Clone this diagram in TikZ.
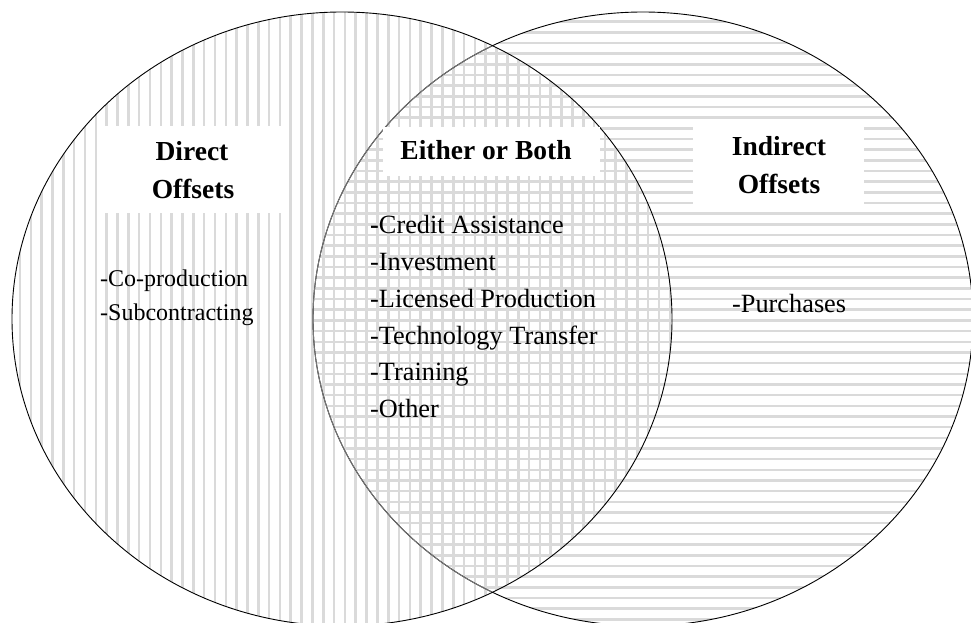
\documentclass[tikz,border=0pt]{standalone}
\usepackage{fontspec}
\setmainfont{Liberation Serif}
\definecolor{stripecol}{RGB}{218,218,218}
\definecolor{innerline}{RGB}{120,120,120}
\begin{document}
\begin{tikzpicture}[x=1pt,y=-1pt,
  stripe/.style={line width=2.6pt, draw=stripecol},
  outline/.style={line width=0.9pt, draw=black},
  whitebox/.style={fill=white, draw=none, inner sep=0pt},
  title/.style={font=\fontsize{27.5}{33}\selectfont\bfseries, inner sep=0pt, anchor=base},
  item/.style={font=\fontsize{26.3}{31}\selectfont, inner sep=0pt, anchor=base west},
  smallitem/.style={font=\fontsize{24}{29}\selectfont, inner sep=0pt, anchor=base west}]
\useasboundingbox (0,0) rectangle (971,623);
\fill[white] (0,0) rectangle (971,623);
\begin{scope}
\clip (0,0) rectangle (971,623);
% right ellipse pattern (horizontal)
\begin{scope}
\clip (643,319) ellipse [x radius=330pt, y radius=307pt];
\foreach \k in {0,...,57} \draw[stripe] (300,{21.7+10.67*\k}) -- (985,{21.7+10.67*\k});
\end{scope}
% left ellipse pattern (vertical)
\begin{scope}
\clip (342,319) ellipse [x radius=330pt, y radius=307pt];
\foreach \k in {-23,...,38} \draw[stripe] ({258.3+10.83*\k},0) -- ({258.3+10.83*\k},640);
\end{scope}
% outlines
\draw[outline] (643,319) ellipse [x radius=330pt, y radius=307pt];
\draw[outline] (342,319) ellipse [x radius=330pt, y radius=307pt];
\begin{scope}
\clip (342,319) ellipse [x radius=329pt, y radius=306pt];
\draw[line width=0.9pt, draw=innerline] (643,319) ellipse [x radius=330pt, y radius=307pt];
\end{scope}
\end{scope}
% white label boxes
\node[whitebox, minimum width=183pt, minimum height=87pt] (dbox) at (195.5,169.5) {};
\node[whitebox, minimum width=217pt, minimum height=49pt] (ebox) at (491.5,151.5) {};
\node[whitebox, minimum width=171pt, minimum height=85pt] (ibox) at (778.5,165.5) {};
% titles
\node[title] (d1) at (192,160) {Direct};
\node[title] (d2) at (193,198) {Offsets};
\node[title] (e1) at (486,159) {Either or Both};
\node[title] (i1) at (779,155) {Indirect};
\node[title] (i2) at (779,193) {Offsets};
% direct items
\node[smallitem] (c1) at (100,286) {-Co-production};
\node[smallitem] (c2) at (100,320) {-Subcontracting};
% both items
\node[item] (b1) at (370,233) {{\bfseries -}Credit Assistance};
\node[item] (b2) at (370,270) {-Investment};
\node[item] (b3) at (370,307) {-Licensed Production};
\node[item] (b4) at (370,344) {-Technology Transfer};
\node[item] (b5) at (370,380) {-Training};
\node[item] (b6) at (370,417) {-Other};
% indirect items
\node[item] (p1) at (732,312) {-Purchases};
\end{tikzpicture}
\end{document}
